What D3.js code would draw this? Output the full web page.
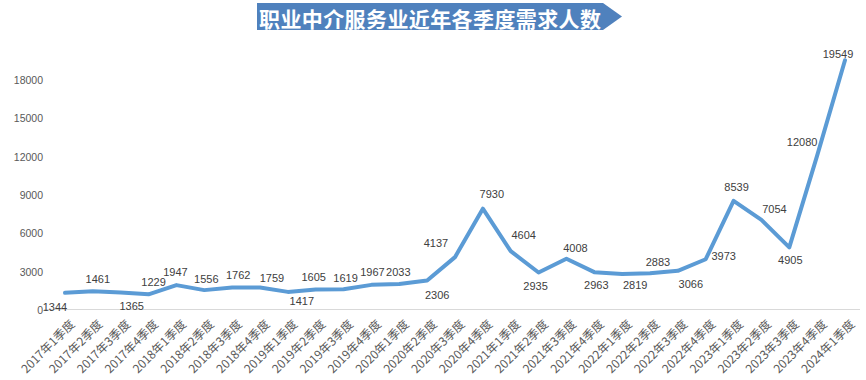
<!DOCTYPE html>
<html>
<head>
<meta charset="utf-8">
<script src="https://cdn.jsdelivr.net/npm/d3@7"></script>
<style>
  html, body { margin: 0; padding: 0; background: #fff; }
  svg { display: block; }
</style>
</head>
<body>
<svg id="chart" width="866" height="380"></svg>
<script>
const titleText = "职业中介服务业近年各季度需求人数";
const categories = [
  "2017年1季度","2017年2季度","2017年3季度","2017年4季度",
  "2018年1季度","2018年2季度","2018年3季度","2018年4季度",
  "2019年1季度","2019年2季度","2019年3季度","2019年4季度",
  "2020年1季度","2020年2季度","2020年3季度","2020年4季度",
  "2021年1季度","2021年2季度","2021年3季度","2021年4季度",
  "2022年1季度","2022年2季度","2022年3季度","2022年4季度",
  "2023年1季度","2023年2季度","2023年3季度","2023年4季度",
  "2024年1季度"
];
const values = [
  1344, 1461, 1365, 1229,
  1947, 1556, 1762, 1759,
  1417, 1605, 1619, 1967,
  2033, 2306, 4137, 7930,
  4604, 2935, 4008, 2963,
  2819, 2883, 3066, 3973,
  8539, 7054, 4905, 12080,
  19549
];
const yTicks = [0, 3000, 6000, 9000, 12000, 15000, 18000];
// data-label placement relative to each point (layout, not data)
const labelOffset = [
  [-10, 14], [5, -12], [11, 13], [5, -12],
  [-1, -13], [2, -11], [6, -12], [12, -10],
  [14, 9], [-2, -12], [2, -11], [1, -13],
  [-1, -12], [10, 14], [-19, -14], [9, -15],
  [13, -16], [-3, 14], [9, -11], [2, 13],
  [13, 11], [8, -11], [13, 13], [18, -3],
  [3, -14], [13, -11], [1, 13], [-15, -14],
  [-7, -6]
];

const svg = d3.select("#chart");
const x = d3.scalePoint().domain(categories).range([65, 845]);
const y = d3.scaleLinear().domain([0, 18000]).range([310, 80]);

// Title banner (arrow shape)
const bx0 = 257, bx1 = 603, btip = 622, by0 = 3, by1 = 30;
svg.append("path")
  .attr("d", `M${bx0},${by0}L${bx1},${by0}L${btip},${(by0+by1)/2}L${bx1},${by1}L${bx0},${by1}Z`)
  .attr("fill", "#4F81BD");
svg.append("text")
  .attr("x", 259)
  .attr("y", (by0 + by1) / 2 + 1)
  .attr("text-anchor", "start")
  .attr("dominant-baseline", "central")
  .attr("fill", "#fff")
  .attr("font-family", "'Noto Sans CJK SC', sans-serif")
  .attr("font-weight", "bold")
  .attr("font-size", 21)
  .attr("textLength", 342)
  .attr("lengthAdjust", "spacing")
  .text(titleText);

// x axis baseline
svg.append("line")
  .attr("x1", 44).attr("x2", 860)
  .attr("y1", y(0) - 0.5).attr("y2", y(0) - 0.5)
  .attr("stroke", "#d9d9d9").attr("stroke-width", 1);

// y axis (labels only)
const yAxis = d3.axisLeft(y).tickValues(yTicks).tickSize(0).tickPadding(0).tickFormat(d3.format("d"));
const gy = svg.append("g").attr("transform", "translate(43,0)").call(yAxis);
gy.select(".domain").remove();
gy.selectAll("text")
  .attr("fill", "#595959")
  .attr("font-family", "'Liberation Sans', Arial, sans-serif")
  .attr("font-size", 10.5)
  .attr("dy", "0.32em");

// x axis labels (rotated)
const xAxis = d3.axisBottom(x).tickSize(0).tickPadding(0);
const gx = svg.append("g").attr("transform", `translate(0,${y(0)})`).call(xAxis);
gx.select(".domain").remove();
gx.selectAll(".tick text")
  .attr("fill", "#595959")
  .attr("font-family", "'Noto Sans CJK SC', 'Liberation Sans', sans-serif")
  .attr("font-size", 12)
  .attr("text-anchor", "end")
  .attr("dy", 0)
  .attr("y", 0)
  .attr("transform", "translate(10,15) rotate(-45)");

// line
const line = d3.line()
  .x((d, i) => x(categories[i]))
  .y(d => y(d));
svg.append("path")
  .datum(values)
  .attr("d", line)
  .attr("fill", "none")
  .attr("stroke", "#5B9BD5")
  .attr("stroke-width", 4)
  .attr("stroke-linejoin", "round")
  .attr("stroke-linecap", "round");

// data labels
svg.append("g").selectAll("text")
  .data(values)
  .join("text")
  .attr("x", (d, i) => x(categories[i]) + labelOffset[i][0])
  .attr("y", (d, i) => y(d) + labelOffset[i][1])
  .attr("text-anchor", "middle")
  .attr("dominant-baseline", "central")
  .attr("fill", "#404040")
  .attr("font-family", "'Liberation Sans', Arial, sans-serif")
  .attr("font-size", 11)
  .text(d => d);
</script>
</body>
</html>
